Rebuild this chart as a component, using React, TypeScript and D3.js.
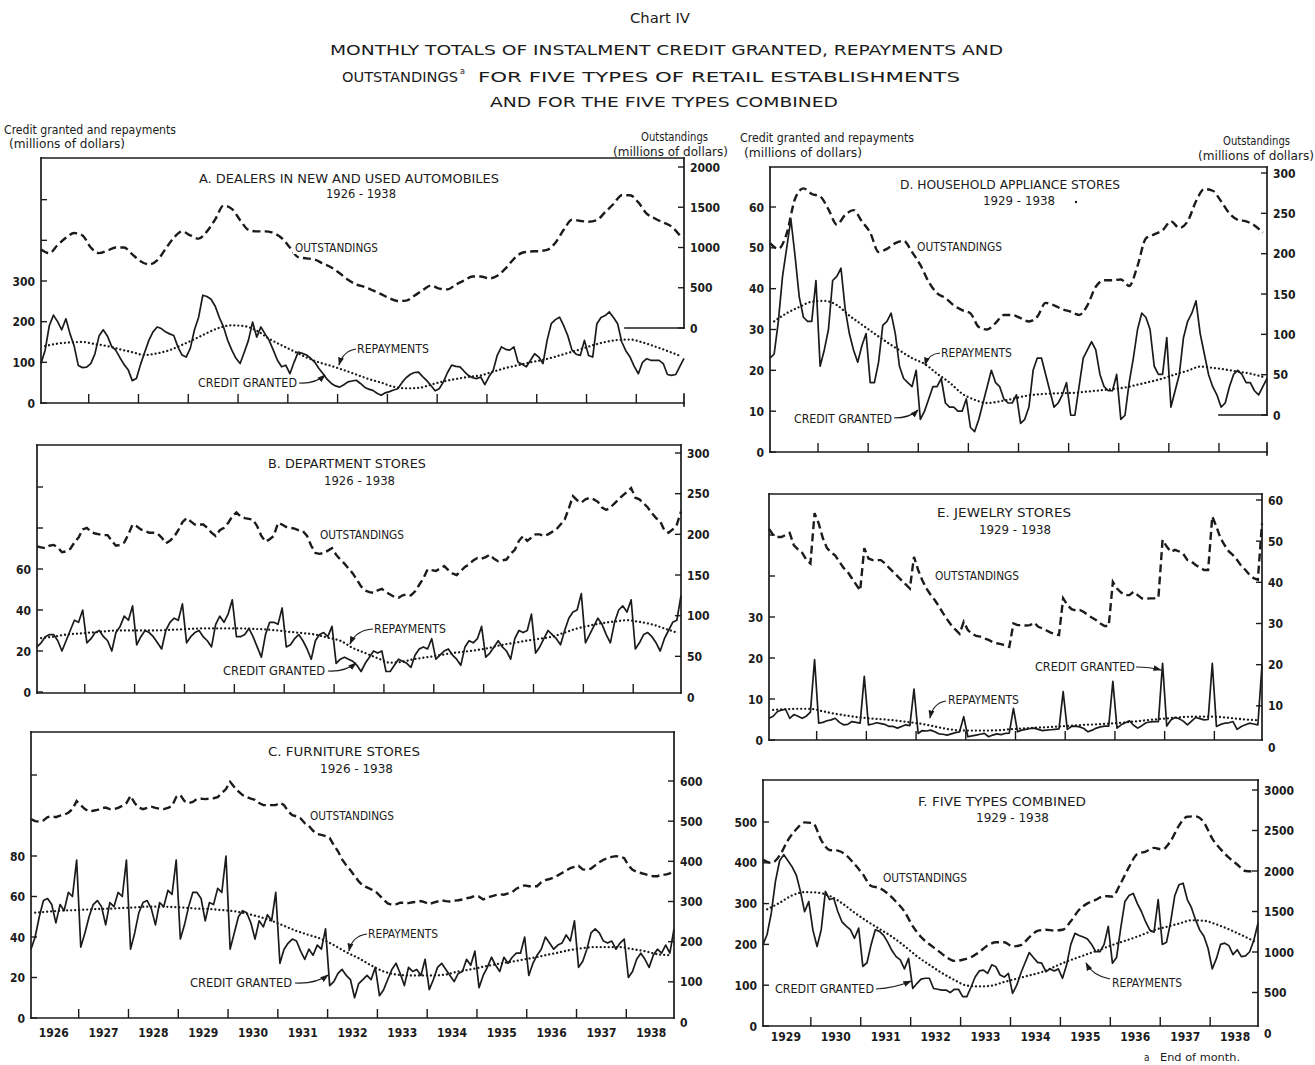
import React from "react";
import * as d3 from "d3";

// ---------- A. Dealers in new and used automobiles, 1926-1938 (monthly) ----------
const autoCredit = [
  97, 130, 190, 216, 200, 180, 207, 170, 140, 92, 87, 88,
  97, 121, 165, 180, 165, 140, 130, 112, 95, 82, 55, 60,
  95, 125, 154, 175, 187, 183, 175, 170, 166, 138, 118, 113,
  135, 180, 211, 265, 262, 255, 238, 210, 187, 154, 130, 110,
  97, 125, 154, 199, 162, 187, 170, 154, 130, 105, 89, 93,
  72, 100, 125, 122, 118, 110, 100, 85, 72, 58, 48, 42,
  39, 45, 52, 54, 56, 48, 39, 34, 31, 24, 19, 25,
  28, 32, 35, 50, 62, 70, 75, 76, 65, 55, 43, 30,
  35, 52, 75, 93, 90, 89, 78, 68, 62, 60, 64, 45,
  65, 80, 118, 138, 132, 130, 138, 100, 95, 89, 105, 121,
  113, 97, 154, 195, 205, 211, 190, 165, 130, 120, 117, 154,
  117, 113, 195, 210, 215, 224, 210, 195, 150, 128, 113, 90,
  72, 100, 109, 105, 105, 105, 97, 70, 68, 70, 90, 110,
];
// every second month
const autoOutstanding = [
  976, 930, 1030, 1120, 1180, 1150, 1000, 930, 960, 1000, 1000, 915,
  830, 790, 840, 980, 1120, 1200, 1150, 1110, 1200, 1350, 1520, 1480,
  1340, 1220, 1200, 1200, 1180, 1118, 1000, 880, 865, 850, 800, 752,
  680, 600, 540, 510, 467, 420, 370, 335, 340, 400, 470, 528,
  490, 480, 540, 590, 640, 640, 615, 650, 740, 860, 935, 950,
  955, 970, 1060, 1220, 1345, 1330, 1320, 1340, 1440, 1540, 1650, 1650,
  1560, 1420, 1360, 1310, 1260, 1150,
];
// quarterly (mid-quarter months)
const autoRepayments = [
  140, 146, 149, 150, 145, 140, 132, 125, 118, 122, 130, 143,
  157, 172, 185, 191, 189, 178, 158, 142, 127, 112, 100, 91,
  81, 70, 59, 50, 40, 36, 37, 45, 53, 59, 64, 68,
  77, 86, 93, 100, 106, 114, 123, 132, 142, 150, 155, 156,
  149, 139, 128, 116,
];

// ---------- B. Department stores, 1926-1938 ----------
const deptCredit = [
  22, 24, 27, 28, 28, 25, 20, 25, 30, 35, 34, 40,
  24, 26, 29, 30, 27, 25, 20, 29, 32, 37, 35, 42,
  23, 27, 30, 29, 27, 24, 21, 30, 34, 36, 35, 43,
  24, 27, 29, 30, 27, 25, 22, 33, 37, 34, 38, 45,
  27, 27, 28, 31, 27, 22, 17, 28, 34, 34, 33, 41,
  22, 23, 26, 28, 25, 21, 16, 25, 28, 29, 27, 32,
  14, 16, 17, 16, 15, 13, 10, 14, 17, 20, 19, 20,
  10, 10, 13, 16, 15, 14, 12, 18, 21, 22, 21, 26,
  16, 18, 20, 21, 18, 16, 13, 22, 25, 24, 26, 32,
  17, 19, 22, 25, 22, 20, 16, 26, 30, 29, 30, 38,
  19, 22, 26, 30, 28, 26, 23, 30, 36, 39, 40, 48,
  24, 28, 32, 36, 33, 28, 24, 34, 40, 42, 39, 45,
  21, 24, 28, 29, 27, 24, 20, 26, 30, 34, 35, 47,
];
const deptOutstanding = [
  185, 184, 183, 186, 187, 184, 178, 179, 182, 190, 196, 206,
  208, 203, 201, 200, 199, 199, 192, 186, 187, 190, 200, 212,
  210, 206, 204, 202, 202, 201, 196, 189, 192, 197, 205, 215,
  220, 216, 212, 212, 212, 208, 202, 198, 205, 208, 214, 222,
  227, 222, 220, 219, 218, 210, 198, 191, 194, 198, 214, 212,
  209, 208, 207, 205, 204, 198, 186, 177, 176, 177, 180, 183,
  175, 169, 164, 158, 152, 144, 136, 131, 129, 128, 131, 133,
  129, 126, 123, 122, 125, 126, 125, 130, 138, 146, 157, 156,
  155, 158, 161, 156, 152, 150, 155, 160, 163, 168, 171, 170,
  172, 175, 170, 167, 168, 169, 176, 181, 192, 198, 192, 196,
  200, 200, 198, 200, 203, 206, 212, 218, 232, 247, 242, 239,
  243, 245, 243, 240, 233, 230, 233, 238, 243, 248, 252, 257,
  245, 243, 238, 233, 226, 220, 216, 205, 202, 206, 212, 228,
];
const deptRepayments = [
  26.3, 27, 28, 28.5, 29, 29.5, 30, 30, 30, 30, 30.2, 30.5,
  30.8, 31, 31, 31, 31, 30.8, 30.5, 30, 29.3, 28.7, 28, 26.5,
  25, 21.5, 19, 16.5, 14.3, 14.8, 16.1, 17, 18, 19, 19.7, 20.5,
  21.6, 23, 24, 25.1, 26, 27, 29, 31, 32.4, 33.6, 34.4, 35,
  34.2, 33, 31, 29,
];

// ---------- C. Furniture stores, 1926-1938 ----------
const furnCredit = [
  34, 40, 50, 58, 59, 56, 47, 56, 53, 62, 60, 78,
  35, 42, 50, 56, 58, 55, 46, 57, 55, 62, 60, 78,
  34, 42, 52, 57, 58, 54, 46, 57, 55, 63, 61, 78,
  39, 46, 55, 62, 62, 59, 48, 57, 56, 64, 62, 80,
  34, 42, 50, 53, 52, 47, 39, 48, 45, 51, 48, 62,
  27, 34, 37, 39, 38, 33, 29, 34, 31, 36, 34, 44,
  16, 18, 22, 24, 21, 19, 10, 17, 19, 21, 19, 25,
  11, 14, 19, 24, 27, 22, 16, 25, 23, 24, 21, 29,
  14, 19, 25, 27, 24, 21, 18, 22, 23, 29, 26, 33,
  15, 21, 25, 30, 26, 23, 30, 27, 30, 32, 32, 40,
  21, 27, 31, 34, 40, 37, 34, 36, 37, 41, 38, 48,
  25, 28, 34, 42, 44, 42, 38, 37, 38, 34, 37, 39,
  20, 23, 29, 32, 29, 25, 31, 34, 32, 36, 32, 44,
];
const furnOutstanding = [
  505, 500, 499, 502, 510, 512, 510, 514, 516, 521, 530, 550,
  540, 530, 524, 526, 528, 532, 534, 530, 530, 533, 538, 545,
  563, 545, 534, 530, 533, 536, 533, 531, 530, 533, 538, 560,
  565, 550, 545, 548, 555, 556, 555, 556, 557, 560, 570, 580,
  598, 585, 574, 565, 560, 556, 553, 545, 540, 540, 540, 540,
  546, 540, 524, 515, 512, 507, 495, 488, 476, 468, 466, 463,
  458, 440, 425, 405, 390, 378, 364, 350, 340, 335, 330, 326,
  315, 305, 295, 292, 293, 297, 297, 296, 298, 299, 301, 298,
  293, 297, 300, 303, 301, 300, 302, 303, 305, 308, 310, 314,
  312, 305, 310, 313, 316, 318, 317, 320, 323, 332, 337, 340,
  338, 338, 338, 348, 353, 356, 360, 365, 371, 377, 383, 386,
  389, 380, 379, 382, 390, 398, 404, 408, 411, 413, 412, 408,
  390, 379, 374, 371, 368, 365, 363, 363, 367, 367, 370, 378,
];
const furnRepayments = [
  52, 52.5, 53, 53.2, 53.5, 53.8, 54, 54.3, 54.6, 55, 55, 54.8,
  54.5, 54, 53.8, 53.3, 52.7, 51.5, 50, 48, 45.5, 43, 41, 39,
  36, 32.5, 29.5, 26, 23, 21.5, 21, 21, 21, 21.5, 23, 24,
  25.3, 26.5, 27.5, 28.6, 29.7, 31, 32.3, 33.6, 34.5, 35, 35, 35,
  34, 33, 31.5, 31,
];

// ---------- D. Household appliance stores, 1929-1938 ----------
const applCredit = [
  23, 24, 32, 43, 50, 57, 48, 38, 33, 32, 32, 42,
  21, 25, 30, 42, 43, 45, 35, 29, 25, 22, 26, 29,
  17, 17, 22, 31, 32, 34, 29, 21, 18, 17, 16, 20,
  8, 10, 13, 16, 16, 18, 12, 11, 11, 10, 10, 13,
  6, 5, 8, 12, 16, 20, 17, 16, 13, 12, 12, 14,
  7, 8, 11, 20, 23, 23, 19, 15, 11, 12, 14, 17,
  9, 9, 16, 23, 25, 27, 25, 19, 16, 15, 15, 19,
  8, 9, 17, 23, 30, 34, 33, 30, 21, 19, 19, 28,
  11, 15, 19, 28, 32, 34, 37, 29, 24, 19, 16, 14,
  11, 12, 16, 19, 20, 19, 17, 17, 15, 14, 16, 18,
];
const applOutstanding = [
  213, 206, 225, 268, 281, 274, 271, 255, 236, 248,
  254, 240, 226, 202, 206, 213, 216, 202, 186, 165,
  151, 145, 136, 130, 126, 109, 106, 114, 124, 124,
  120, 116, 122, 139, 136, 131, 128, 124, 136, 159,
  167, 167, 168, 160, 185, 219, 224, 229, 240, 232,
  240, 265, 280, 278, 265, 250, 242, 240, 235, 226,
];
const applRepayments = [
  32, 34, 35.5, 36.8, 37, 36, 33.4, 31.2, 29, 26.9,
  24.9, 23, 21.6, 19.2, 17, 14.3, 12.8, 12, 12.4, 13,
  13.7, 14.1, 14.3, 14.4, 14.5, 14.8, 15.1, 15.4, 15.8, 16.5,
  17.2, 18, 19, 19.9, 20.9, 20.6, 20.2, 19.7, 19.2, 18.4,
];

// ---------- E. Jewelry stores, 1929-1938 ----------
const jewelCredit = [
  5.3, 5.8, 6.9, 7.3, 7.5, 5.3, 6.2, 5.8, 5.3, 5.8, 6.8, 19.6,
  4.1, 4.3, 4.7, 4.9, 5.3, 4.3, 3.7, 3.8, 4.5, 4.3, 4.1, 15.5,
  3.7, 3.9, 4.2, 4.0, 3.8, 3.3, 3.3, 2.9, 3.3, 3.7, 3.5, 12.4,
  1.6, 2.3, 2.2, 2.4, 2.0, 1.5, 1.4, 1.2, 1.5, 1.8, 2.0, 5.7,
  0.8, 1.0, 1.2, 1.4, 1.6, 0.8, 1.2, 1.5, 1.3, 1.6, 1.7, 7.7,
  2.0, 2.4, 2.6, 2.8, 2.9, 2.6, 2.3, 2.4, 2.5, 2.6, 2.7, 11.8,
  2.6, 3.3, 3.4, 3.2, 2.8, 2.0, 2.4, 2.9, 3.2, 3.4, 3.4, 14.3,
  2.9, 3.7, 4.2, 4.7, 3.6, 2.9, 3.5, 4.2, 4.4, 4.5, 4.5, 18.7,
  3.4, 4.9, 5.5, 5.2, 4.6, 3.7, 4.6, 5.5, 5.2, 4.9, 5.0, 18.7,
  3.3, 3.8, 4.1, 4.2, 4.5, 2.6, 3.3, 3.7, 4.1, 3.9, 3.7, 18.3,
];
const jewelOutstanding = [
  53, 51.5, 51, 51, 51.5, 52, 49, 48, 47.2, 45.5, 44.6, 56.8,
  54.3, 50.7, 48.3, 47.3, 46.5, 45, 43.5, 42.5, 41, 39.5, 38, 48.3,
  45.8, 45.4, 45.4, 45.4, 44.6, 43.5, 42.5, 41.5, 40.5, 39.5, 38.5, 46.2,
  43, 40.5, 38.5, 37, 35.7, 34.2, 32.5, 31, 29.6, 28.5, 27.5, 30.4,
  28.4, 27.5, 27, 26.8, 26.4, 26, 25.5, 25.2, 25, 24.7, 24.3, 30,
  29.6, 29.6, 29.5, 29.6, 30.2, 29.2, 28.8, 28.3, 27.8, 27.4, 27.2, 36.1,
  34.5, 33.5, 33.2, 33.3, 32.8, 32, 31.4, 30.8, 30, 29.4, 29.4, 40.1,
  38.5, 37.5, 36.9, 36.9, 37.7, 36.9, 36.1, 36, 36.1, 36.1, 36.3, 50.3,
  48.7, 47.4, 47.9, 47.5, 46.9, 45.4, 45, 44.2, 43.6, 43, 43, 56,
  53.5, 50.7, 49, 47.5, 46.6, 45.4, 44, 43, 41.8, 41, 40.6, 54.3,
];
const jewelRepayments = [
  7.35, 7.5, 7.6, 7.6, 7.0, 6.4, 5.9, 5.5, 5.2, 5.0,
  4.7, 4.3, 3.9, 3.3, 2.7, 2.35, 2.3, 2.3, 2.35, 2.6,
  2.8, 3.0, 3.1, 3.3, 3.5, 3.7, 3.8, 4.0, 4.2, 4.5,
  4.8, 5.1, 5.35, 5.6, 5.7, 5.7, 5.6, 5.3, 5.0, 4.8,
];

// ---------- F. Five types combined, 1929-1938 ----------
const fiveCredit = [
  199, 225, 277, 355, 405, 420, 405, 390, 370, 330, 280, 305,
  235, 195, 236, 330, 310, 313, 280, 255, 245, 236, 215, 240,
  146, 155, 200, 236, 232, 222, 205, 185, 170, 162, 140, 166,
  92, 104, 115, 117, 117, 92, 90, 88, 88, 82, 90, 90,
  72, 72, 95, 120, 135, 137, 129, 150, 145, 125, 120, 129,
  80, 100, 130, 155, 180, 168, 156, 154, 133, 140, 135, 140,
  117, 150, 200, 227, 222, 218, 213, 200, 182, 182, 200, 244,
  154, 168, 240, 305, 320, 325, 300, 280, 255, 235, 230, 310,
  200, 205, 255, 320, 346, 350, 310, 290, 260, 235, 220, 190,
  140, 165, 200, 203, 197, 175, 187, 170, 172, 182, 210, 252,
];
const fiveOutstanding = [
  2137, 2100, 2190, 2380, 2515, 2600, 2590, 2380, 2260, 2252,
  2195, 2085, 1960, 1815, 1790, 1720, 1620, 1500, 1320, 1185,
  1095, 1020, 940, 890, 904, 935, 1000, 1080, 1120, 1120,
  1069, 1085, 1180, 1260, 1274, 1265, 1274, 1380, 1521, 1600,
  1644, 1690, 1685, 1850, 2050, 2210, 2240, 2285, 2265, 2370,
  2560, 2670, 2675, 2600, 2400, 2270, 2165, 2080, 2000, 1995,
];
const fiveRepayments = [
  286, 302, 320, 328, 327, 319, 301, 278, 257, 238,
  219, 196, 171, 150, 130, 113, 99, 97, 99, 108,
  116, 124, 132, 145, 158, 169, 180, 191, 202, 212,
  223, 235, 243, 251, 259, 258, 249, 237, 223, 208,
];

const yearsAtoC = d3.range(1926, 1939).map(String);
const yearsDtoF = d3.range(1929, 1939).map(String);

// ---------- drawing ----------
const FONT = "'DejaVu Sans Condensed','Liberation Sans Narrow',sans-serif";
const INK = "#1b1b1b";

type Note = { text: string; x: number; y: number; w: number; lead?: number[] };

type Panel = {
  id: string;
  title: string;
  span: string;
  titleBox: [number, number, number];
  spanBox: [number, number, number];
  x0: number;
  x1: number;
  top: number;
  bottom: number;
  years: string[];
  leftDomain: [number, number];
  leftRange: [number, number];
  leftTicks: number[];
  leftMinor: number[];
  rightDomain: [number, number];
  rightRange: [number, number];
  rightTicks: number[];
  stubX?: number;
  yearLabelY?: number;
  credit: number[];
  outstanding: number[];
  outStep: number;
  repayments: number[];
  notes: Note[];
};

const panels: Panel[] = [
  {
    id: "A",
    title: "A.  DEALERS IN NEW AND USED AUTOMOBILES",
    span: "1926 - 1938",
    titleBox: [199, 183, 300],
    spanBox: [326, 198, 70],
    x0: 41, x1: 684, top: 158, bottom: 403,
    years: yearsAtoC,
    leftDomain: [0, 300], leftRange: [403, 281],
    leftTicks: [0, 100, 200, 300], leftMinor: [400, 500],
    rightDomain: [0, 2000], rightRange: [328, 167],
    rightTicks: [0, 500, 1000, 1500, 2000],
    stubX: 625,
    credit: autoCredit, outstanding: autoOutstanding, outStep: 2, repayments: autoRepayments,
    notes: [
      { text: "OUTSTANDINGS", x: 295, y: 252, w: 83 },
      { text: "REPAYMENTS", x: 357, y: 353, w: 72, lead: [356, 349, 343, 351, 339, 365] },
      { text: "CREDIT GRANTED", x: 198, y: 387, w: 99, lead: [299, 383, 315, 384, 325, 375] },
    ],
  },
  {
    id: "B",
    title: "B.  DEPARTMENT STORES",
    span: "1926 - 1938",
    titleBox: [268, 468, 158],
    spanBox: [324, 485, 71],
    x0: 37, x1: 681, top: 445, bottom: 693,
    years: yearsAtoC,
    leftDomain: [0, 60], leftRange: [692, 569],
    leftTicks: [0, 20, 40, 60], leftMinor: [80, 100],
    rightDomain: [0, 300], rightRange: [697, 453],
    rightTicks: [0, 50, 100, 150, 200, 250, 300],
    credit: deptCredit, outstanding: deptOutstanding, outStep: 1, repayments: deptRepayments,
    notes: [
      { text: "OUTSTANDINGS", x: 320, y: 539, w: 84 },
      { text: "REPAYMENTS", x: 374, y: 633, w: 72, lead: [373, 629, 356, 630, 350, 644] },
      { text: "CREDIT GRANTED", x: 223, y: 675, w: 102, lead: [328, 671, 345, 672, 356, 663] },
    ],
  },
  {
    id: "C",
    title: "C.  FURNITURE STORES",
    span: "1926 - 1938",
    titleBox: [268, 756, 152],
    spanBox: [320, 773, 73],
    x0: 31, x1: 674, top: 732, bottom: 1018,
    years: yearsAtoC,
    leftDomain: [0, 80], leftRange: [1018, 856],
    leftTicks: [0, 20, 40, 60, 80], leftMinor: [120],
    rightDomain: [0, 600], rightRange: [1022, 781],
    rightTicks: [0, 100, 200, 300, 400, 500, 600],
    yearLabelY: 1037,
    credit: furnCredit, outstanding: furnOutstanding, outStep: 1, repayments: furnRepayments,
    notes: [
      { text: "OUTSTANDINGS", x: 310, y: 820, w: 84 },
      { text: "REPAYMENTS", x: 368, y: 938, w: 70, lead: [367, 934, 352, 936, 349, 951] },
      { text: "CREDIT GRANTED", x: 190, y: 987, w: 102, lead: [295, 983, 316, 984, 328, 975] },
    ],
  },
  {
    id: "D",
    title: "D.  HOUSEHOLD APPLIANCE STORES",
    span: "1929 - 1938",
    titleBox: [900, 189, 220],
    spanBox: [983, 205, 72],
    x0: 770, x1: 1267, top: 167, bottom: 452,
    years: yearsDtoF,
    leftDomain: [0, 60], leftRange: [452, 207],
    leftTicks: [0, 10, 20, 30, 40, 50, 60], leftMinor: [],
    rightDomain: [0, 300], rightRange: [415, 173],
    rightTicks: [0, 50, 100, 150, 200, 250, 300],
    stubX: 1219,
    credit: applCredit, outstanding: applOutstanding, outStep: 2, repayments: applRepayments,
    notes: [
      { text: "OUTSTANDINGS", x: 917, y: 251, w: 85 },
      { text: "REPAYMENTS", x: 941, y: 357, w: 71, lead: [940, 353, 928, 354, 925, 365] },
      { text: "CREDIT GRANTED", x: 794, y: 423, w: 98, lead: [894, 418, 910, 418, 918, 410] },
    ],
  },
  {
    id: "E",
    title: "E.  JEWELRY STORES",
    span: "1929 - 1938",
    titleBox: [937, 517, 134],
    spanBox: [979, 534, 72],
    x0: 769, x1: 1262, top: 494, bottom: 740,
    years: yearsDtoF,
    leftDomain: [0, 30], leftRange: [740, 617],
    leftTicks: [0, 10, 20, 30], leftMinor: [40, 50],
    rightDomain: [0, 60], rightRange: [747, 500],
    rightTicks: [0, 10, 20, 30, 40, 50, 60],
    credit: jewelCredit, outstanding: jewelOutstanding, outStep: 1, repayments: jewelRepayments,
    notes: [
      { text: "OUTSTANDINGS", x: 935, y: 580, w: 84 },
      { text: "REPAYMENTS", x: 948, y: 704, w: 71, lead: [946, 701, 933, 703, 930, 718] },
      { text: "CREDIT GRANTED", x: 1035, y: 671, w: 100, lead: [1136, 667, 1150, 667, 1161, 670] },
    ],
  },
  {
    id: "F",
    title: "F.  FIVE TYPES COMBINED",
    span: "1929 - 1938",
    titleBox: [918, 806, 168],
    spanBox: [976, 822, 73],
    x0: 763, x1: 1258, top: 780, bottom: 1026,
    years: yearsDtoF,
    leftDomain: [0, 500], leftRange: [1026, 822],
    leftTicks: [0, 100, 200, 300, 400, 500], leftMinor: [],
    rightDomain: [0, 3000], rightRange: [1033, 790],
    rightTicks: [0, 500, 1000, 1500, 2000, 2500, 3000],
    yearLabelY: 1041,
    credit: fiveCredit, outstanding: fiveOutstanding, outStep: 2, repayments: fiveRepayments,
    notes: [
      { text: "OUTSTANDINGS", x: 883, y: 882, w: 84 },
      { text: "CREDIT GRANTED", x: 775, y: 993, w: 99, lead: [876, 989, 895, 988, 911, 981] },
      { text: "REPAYMENTS", x: 1112, y: 987, w: 70, lead: [1110, 979, 1093, 976, 1086, 963] },
    ],
  },
];

const lineGen = d3
  .line<[number, number]>()
  .x((d) => d[0])
  .y((d) => d[1]);

function Label(props: {
  x: number;
  y: number;
  w?: number;
  size?: number;
  anchor?: string;
  bold?: boolean;
  children: React.ReactNode;
}) {
  const { x, y, w, size = 11.5, anchor = "start", bold = false, children } = props;
  return (
    <text
      x={x}
      y={y}
      fontSize={size}
      textAnchor={anchor}
      fill={INK}
      fontFamily={FONT}
      fontWeight={bold ? "bold" : "normal"}
      {...(w ? { textLength: w, lengthAdjust: "spacingAndGlyphs" } : {})}
    >
      {children}
    </text>
  );
}

function PanelView({ p }: { p: Panel }) {
  const n = p.credit.length;
  const x = d3.scaleLinear().domain([0, n - 1]).range([p.x0, p.x1]);
  const yL = d3.scaleLinear().domain(p.leftDomain).range(p.leftRange);
  const yR = d3.scaleLinear().domain(p.rightDomain).range(p.rightRange);

  const creditPath = lineGen.curve(d3.curveLinear)(p.credit.map((v, i) => [x(i), yL(v)] as [number, number]));
  const outPath = lineGen
    .curve(p.outStep > 1 ? d3.curveMonotoneX : d3.curveLinear)(
      p.outstanding.map((v, i) => [x(i * p.outStep), yR(v)] as [number, number])
    );
  const repayPath = lineGen.curve(d3.curveMonotoneX)(
    p.repayments.map((v, i) => [x(1 + 3 * i), yL(v)] as [number, number])
  );

  const rightEnd = p.stubX !== undefined ? yR(0) : p.bottom;
  const nYears = p.years.length;

  return (
    <g>
      {/* frame */}
      <g stroke={INK} strokeWidth={1.7} fill="none" strokeLinecap="square">
        <line x1={p.x0} y1={p.top} x2={p.x1} y2={p.top} />
        <line x1={p.x0} y1={p.top} x2={p.x0} y2={p.bottom} />
        <line x1={p.x0} y1={p.bottom} x2={p.x1} y2={p.bottom} />
        <line x1={p.x1} y1={p.top} x2={p.x1} y2={rightEnd} />
        {p.stubX !== undefined && <line x1={p.stubX} y1={yR(0)} x2={p.x1} y2={yR(0)} />}
        {p.stubX !== undefined && <line x1={p.x1} y1={p.bottom - 9} x2={p.x1} y2={p.bottom + 3} />}
      </g>

      {/* year ticks on the time axis */}
      <g stroke={INK} strokeWidth={1.4}>
        {d3.range(1, nYears).map((k) => (
          <line key={k} x1={x(12 * k - 0.5)} x2={x(12 * k - 0.5)} y1={p.bottom - 9} y2={p.bottom} />
        ))}
      </g>
      {p.yearLabelY !== undefined &&
        p.years.map((yr, k) => (
          <Label key={yr} x={x(12 * k + 5.5)} y={p.yearLabelY!} size={12} anchor="middle" bold>
            {yr}
          </Label>
        ))}

      {/* left axis: ticks point into the plot */}
      <g stroke={INK} strokeWidth={1.4}>
        {[...p.leftTicks, ...p.leftMinor].map((v) => (
          <line key={v} x1={p.x0} x2={p.x0 + 6} y1={yL(v)} y2={yL(v)} />
        ))}
      </g>
      {p.leftTicks.map((v) => (
        <Label key={v} x={p.x0 - 6} y={yL(v) + 4.5} size={12} anchor="end" bold>
          {v}
        </Label>
      ))}

      {/* right axis */}
      <g stroke={INK} strokeWidth={1.4}>
        {p.rightTicks
          .filter((v) => yR(v) <= rightEnd + 1)
          .map((v) => (
            <line key={v} x1={p.x1 - 6} x2={p.x1} y1={yR(v)} y2={yR(v)} />
          ))}
      </g>
      {p.rightTicks.map((v) => (
        <Label key={v} x={p.x1 + 6} y={yR(v) + 4.5} size={12} bold>
          {v}
        </Label>
      ))}

      {/* series */}
      <path d={outPath ?? ""} fill="none" stroke={INK} strokeWidth={2.4} strokeDasharray="8 4.2" />
      <path d={repayPath ?? ""} fill="none" stroke={INK} strokeWidth={2.3} strokeDasharray="0.01 4" strokeLinecap="round" />
      <path d={creditPath ?? ""} fill="none" stroke={INK} strokeWidth={1.7} strokeLinejoin="round" />

      {/* titles */}
      <Label x={p.titleBox[0]} y={p.titleBox[1]} w={p.titleBox[2]} size={12}>
        {p.title}
      </Label>
      <Label x={p.spanBox[0]} y={p.spanBox[1]} w={p.spanBox[2]} size={12}>
        {p.span}
      </Label>

      {/* series labels with leaders */}
      {p.notes.map((nt) => (
        <g key={nt.text}>
          <rect x={nt.x - 2} y={nt.y - 11} width={nt.w + 4} height={13} fill="#fff" />
          <Label x={nt.x} y={nt.y} w={nt.w} size={11.5}>
            {nt.text}
          </Label>
          {nt.lead && (
            <path
              d={`M${nt.lead[0]},${nt.lead[1]} Q${nt.lead[2]},${nt.lead[3]} ${nt.lead[4]},${nt.lead[5]}`}
              fill="none"
              stroke={INK}
              strokeWidth={1.2}
              markerEnd="url(#arrowhead)"
            />
          )}
        </g>
      ))}
    </g>
  );
}

export default function App() {
  return (
    <svg
      width={1315}
      height={1065}
      viewBox="0 0 1315 1065"
      style={{ position: "absolute", left: 0, top: 0, background: "#fff", display: "block" }}
    >
      <defs>
        <marker id="arrowhead" viewBox="0 0 10 10" refX="9" refY="5" markerWidth="7" markerHeight="7" orient="auto-start-reverse">
          <path d="M0,1.5 L10,5 L0,8.5 z" fill={INK} />
        </marker>
      </defs>
      <rect x={0} y={0} width={1315} height={1065} fill="#fff" />

      {/* chart heading */}
      <Label x={630} y={23} w={60} size={14}>
        Chart IV
      </Label>
      <Label x={330} y={55} w={673} size={14}>
        MONTHLY TOTALS OF INSTALMENT CREDIT GRANTED, REPAYMENTS AND
      </Label>
      <Label x={342} y={82} w={116} size={14}>
        OUTSTANDINGS
      </Label>
      <Label x={460} y={74} size={9}>
        a
      </Label>
      <Label x={478} y={82} w={482} size={14}>
        FOR FIVE TYPES OF RETAIL ESTABLISHMENTS
      </Label>
      <Label x={490} y={107} w={348} size={14}>
        AND FOR THE FIVE TYPES COMBINED
      </Label>

      {/* axis headers, left column */}
      <Label x={4} y={134} w={172} size={11.5}>
        Credit granted and repayments
      </Label>
      <Label x={9} y={148} w={116} size={11.5}>
        (millions of dollars)
      </Label>
      <Label x={641} y={141} w={67} size={11.5}>
        Outstandings
      </Label>
      <Label x={613} y={156} w={115} size={11.5}>
        (millions of dollars)
      </Label>

      {/* axis headers, right column */}
      <Label x={740} y={142} w={174} size={11.5}>
        Credit granted and repayments
      </Label>
      <Label x={744} y={157} w={118} size={11.5}>
        (millions of dollars)
      </Label>
      <Label x={1223} y={145} w={67} size={11.5}>
        Outstandings
      </Label>
      <Label x={1198} y={160} w={116} size={11.5}>
        (millions of dollars)
      </Label>

      {panels.map((p) => (
        <PanelView key={p.id} p={p} />
      ))}

      <circle cx={1076} cy={202} r={1.2} fill={INK} />

      {/* footnote */}
      <Label x={1144} y={1061} size={10}>
        a
      </Label>
      <Label x={1160} y={1061} w={80} size={11}>
        End of month.
      </Label>
    </svg>
  );
}
